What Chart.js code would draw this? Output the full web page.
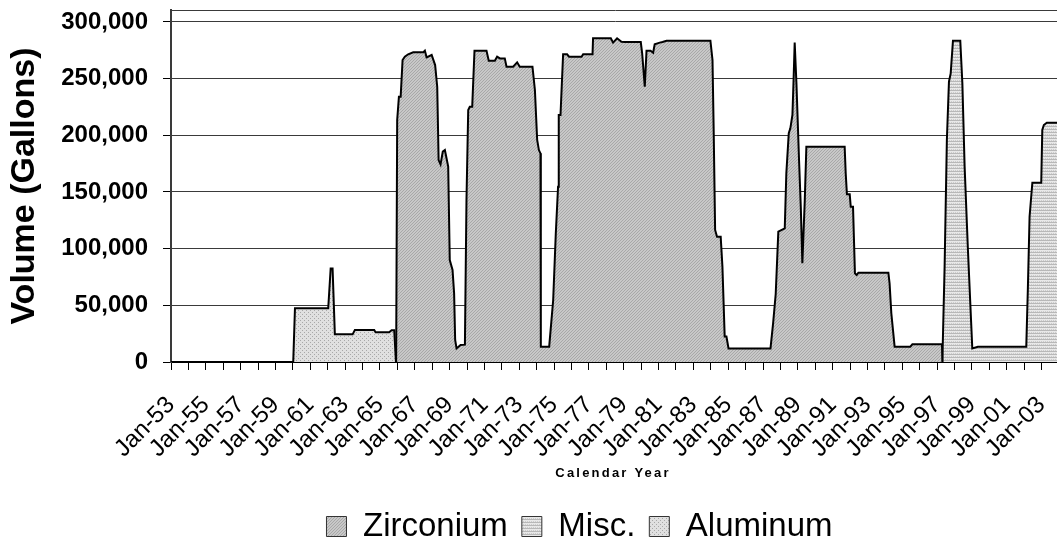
<!DOCTYPE html>
<html>
<head>
<meta charset="utf-8">
<script src="https://cdn.jsdelivr.net/npm/chart.js@4.4.1/dist/chart.umd.min.js"></script>
<style>
  html, body { margin: 0; padding: 0; background: #fff; overflow: hidden; }
  #wrap { width: 1076px; height: 553px; }
</style>
</head>
<body>
<div id="wrap"><canvas id="chart" width="1076" height="553"></canvas></div>
<script>
// volumes, x is a decimal calendar year
const aluminumYears = [1953, 1960.02, 1960.12, 1962.03, 1962.17, 1962.28, 1962.41, 1963.43, 1963.56,
    1964.67, 1964.75, 1965.53, 1965.67, 1965.82, 1965.92];
const aluminumVolumes = [0, 0, 47400, 47400, 82600, 82600, 24400, 24400, 28200,
    28200, 26200, 26200, 28000, 28000, 0];

const zirconiumYears = [1965.93, 1965.99, 1966.09, 1966.19, 1966.30, 1966.43, 1966.62, 1966.91, 1967.48, 1967.58,
    1967.68, 1967.97, 1968.17, 1968.29, 1968.37, 1968.48, 1968.61, 1968.73, 1968.92, 1969.01,
    1969.17, 1969.26, 1969.32, 1969.40, 1969.63, 1969.88, 1969.97, 1970.07, 1970.16, 1970.30,
    1970.43, 1971.12, 1971.25, 1971.60, 1971.73, 1971.89, 1972.17, 1972.27, 1972.65, 1972.88,
    1973.03, 1973.76, 1973.90, 1974.03, 1974.13, 1974.22, 1974.24, 1974.72, 1974.95, 1975.10,
    1975.23, 1975.27, 1975.37, 1975.52, 1975.75, 1975.86, 1976.58, 1976.67, 1977.21, 1977.24,
    1978.26, 1978.39, 1978.62, 1978.87, 1979.06, 1979.98, 1980.06, 1980.21, 1980.31, 1980.54,
    1980.69, 1980.78, 1981.07, 1981.23, 1981.46, 1983.98, 1984.10, 1984.17, 1984.25, 1984.36,
    1984.57, 1984.67, 1984.80, 1984.90, 1985.02, 1987.43, 1987.58, 1987.73, 1987.88, 1988.25,
    1988.34, 1988.48, 1988.57, 1988.69, 1988.75, 1988.82, 1988.92, 1989.07, 1989.17, 1989.26,
    1989.40, 1989.49, 1991.69, 1991.75, 1991.82, 1991.98, 1992.04, 1992.17, 1992.28, 1992.38,
    1992.48, 1994.20, 1994.27, 1994.37, 1994.56, 1995.46, 1995.58, 1997.28, 1997.30];
const zirconiumVolumes = [0, 213500, 234000, 234000, 266500, 269400, 271500, 273200, 273200, 274700,
    268800, 270900, 262000, 242900, 178200, 174400, 185600, 187000, 172400, 90000,
    81200, 60600, 19400, 12000, 15000, 15300, 142900, 222400, 225300, 225300,
    274700, 274700, 265900, 265900, 269400, 267900, 267900, 260600, 260600, 264400,
    260600, 260600, 240000, 195900, 187000, 184100, 13500, 13500, 54700, 113500,
    154700, 218000, 218000, 271500, 271500, 269400, 269400, 271500, 271500, 285600,
    285600, 281800, 285600, 282600, 282300, 282300, 272400, 242900, 274700, 274700,
    272900, 280300, 281800, 282300, 283500, 283500, 266500, 201800, 116500, 110600,
    110600, 84100, 22400, 22400, 12000, 12000, 34100, 60000, 115000, 118000,
    166500, 201800, 206200, 218000, 245900, 281800, 245900, 178200, 137000, 87100,
    142900, 190000, 190000, 166500, 148000, 148000, 137000, 137000, 78200, 76800,
    78800, 78800, 69400, 43000, 13500, 13500, 15600, 15600, 0];

const miscYears = [1997.30, 1997.43, 1997.56, 1997.68, 1997.78, 1997.91, 1998.33, 1998.45, 1998.58, 1998.77,
    1999.02, 1999.34, 2002.12, 2002.21, 2002.31, 2002.47, 2002.98, 2003.04, 2003.13, 2003.30, 2004.00];
const miscVolumes = [0, 84000, 195900, 247300, 254700, 283500, 283500, 245900, 172400, 98800,
    12000, 13500, 13500, 63500, 128200, 158200, 158200, 204700, 209100, 211200, 211200];

const yTicks = [0, 50000, 100000, 150000, 200000, 250000, 300000];
const Y_TOP = 310588;   // plot frame sits a little above the 300,000 line
const X_FIRST = 1953;
const X_LAST = 2004;

Chart.defaults.font.family = "'Liberation Sans', Arial, sans-serif";
Chart.defaults.color = '#000';

const canvas = document.getElementById('chart');
const ctx = canvas.getContext('2d');

function makePattern(w, h, base, dots) {
    let tile = document.createElement('canvas');
    tile.width = w;
    tile.height = h;
    let g = tile.getContext('2d');
    g.fillStyle = base;
    g.fillRect(0, 0, w, h);
    dots.forEach(([x, y, c]) => {
        g.fillStyle = c;
        g.fillRect(x, y, 1, 1);
    });
    return ctx.createPattern(tile, 'repeat');
}

const zirconiumFill = makePattern(3, 3, '#c8c8c8',
    [[0, 2, '#a8a8a8'], [1, 1, '#a8a8a8'], [2, 0, '#a8a8a8']]);
const miscFill = makePattern(4, 3, '#e8e8e8',
    [[0, 0, '#b8b8b8'], [1, 0, '#b8b8b8'], [2, 0, '#b8b8b8'], [3, 0, '#b8b8b8'], [1, 2, '#cccccc'], [3, 2, '#cccccc']]);
const aluminumFill = makePattern(4, 4, '#e0e0e0',
    [[0, 0, '#a8a8a8'], [2, 2, '#a8a8a8']]);

function points(xs, ys) {
    return xs.map((x, i) => ({ x: x, y: ys[i] }));
}

function series(label, xs, ys, fill) {
    return {
        label: label,
        data: points(xs, ys),
        borderColor: '#000',
        borderWidth: 2,
        backgroundColor: fill,
        fill: 'origin',
        pointRadius: 0,
        tension: 0
    };
}

// x axis title is letter-spaced in the original, chart.js can't do that itself
const xTitlePlugin = {
    id: 'xTitle',
    afterDraw(chart) {
        const area = chart.chartArea;
        const c = chart.ctx;
        c.save();
        c.font = "bold 13px 'Liberation Sans', Arial, sans-serif";
        c.letterSpacing = '2.2px';
        c.fillStyle = '#000';
        c.textAlign = 'center';
        c.textBaseline = 'middle';
        c.fillText('Calendar Year', (area.left + area.right) / 2 - 2, area.bottom + 111);
        c.restore();
    }
};

// the legend is not centred on the canvas in the original, nudge it right
const legendShift = {
    id: 'legendShift',
    afterLayout(chart) {
        chart.legend.left += 50;
        chart.legend.right += 50;
    }
};

const config = {
    type: 'line',
    data: {
        datasets: [
            series('Zirconium', zirconiumYears, zirconiumVolumes, zirconiumFill),
            series('Misc.', miscYears, miscVolumes, miscFill),
            series('Aluminum', aluminumYears, aluminumVolumes, aluminumFill)
        ]
    },
    options: {
        responsive: false,
        animation: false,
        layout: {
            padding: { top: 10, right: 17, bottom: 0, left: 0 }
        },
        plugins: {
            tooltip: { enabled: false },
            legend: {
                position: 'bottom',
                labels: {
                    boxWidth: 20,
                    boxHeight: 20,
                    padding: 14,
                    color: '#000',
                    font: { size: 33 },
                    generateLabels: chart => Chart.defaults.plugins.legend.labels.generateLabels(chart)
                        .map(l => Object.assign(l, { lineWidth: 1, strokeStyle: '#333' }))
                }
            }
        },
        scales: {
            x: {
                type: 'linear',
                min: X_FIRST,
                max: X_LAST,
                afterFit: axis => {
                    axis.height = 134;
                    axis.paddingLeft = 0;
                    axis.paddingRight = 0;
                },
                grid: { drawOnChartArea: false, tickLength: 8, color: '#000' },
                border: { color: '#000', width: 2 },
                ticks: {
                    stepSize: 1,
                    maxTicksLimit: 60,
                    autoSkip: false,
                    minRotation: 45,
                    maxRotation: 45,
                    padding: 21,
                    color: '#000',
                    font: { size: 24 },
                    callback: v => ((v - X_FIRST) % 2 === 0) ? 'Jan-' + String(v % 100).padStart(2, '0') : ''
                }
            },
            y: {
                min: 0,
                max: Y_TOP,
                afterBuildTicks: axis => {
                    axis.ticks = yTicks.concat([Y_TOP]).map(v => ({ value: v }));
                },
                afterFit: axis => {
                    axis.width = 171;
                    axis.paddingTop = 0;
                    axis.paddingBottom = 0;
                },
                grid: {
                    color: '#3a3a3a',
                    lineWidth: 1,
                    tickLength: 8,
                    tickColor: c => (c.tick && c.tick.value > 300000) ? 'rgba(0,0,0,0)' : '#000'
                },
                border: { color: '#3a3a3a', width: 2 },
                ticks: {
                    padding: 15,
                    color: '#000',
                    font: { size: 24, weight: 'bold' },
                    callback: v => v > 300000 ? '' : v.toLocaleString('en-US')
                },
                title: {
                    display: true,
                    text: 'Volume (Gallons)',
                    color: '#000',
                    font: { size: 34, weight: 'bold' },
                    padding: { top: 4, bottom: 0 }
                }
            }
        }
    },
    plugins: [xTitlePlugin, legendShift]
};

const chart = new Chart(ctx, config);
</script>
</body>
</html>
